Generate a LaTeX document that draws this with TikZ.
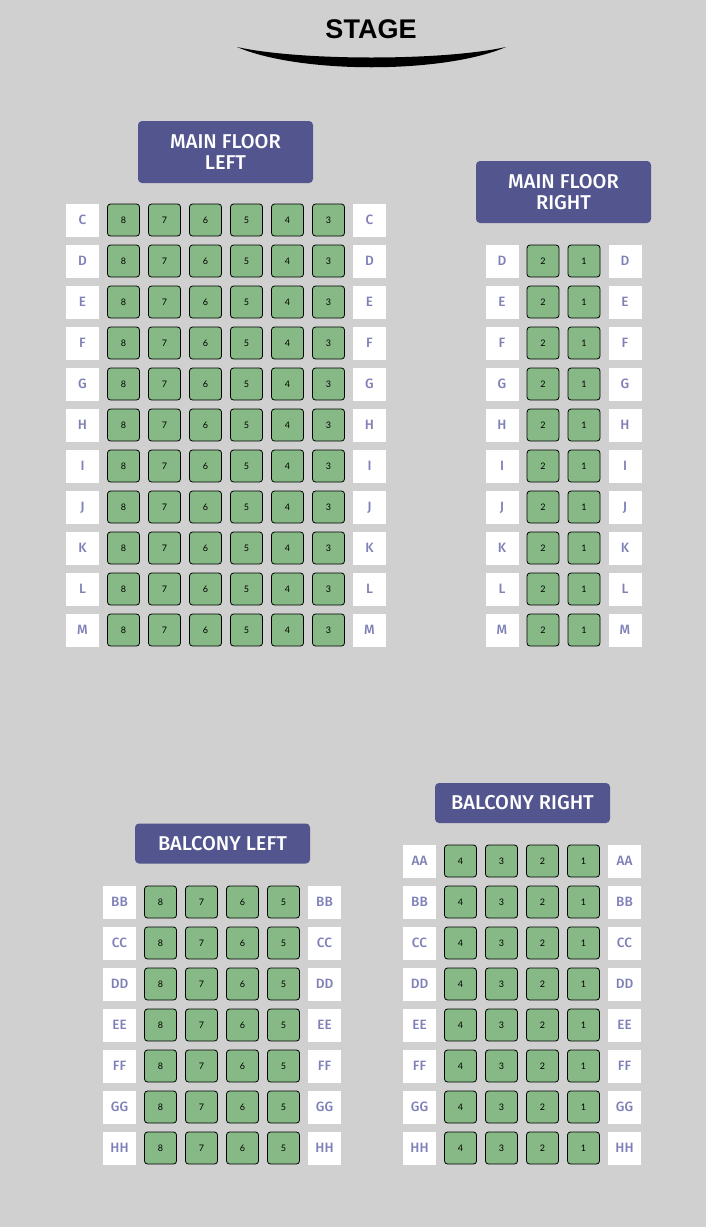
\documentclass[tikz,border=0pt]{standalone}
\usepackage{fontspec}
\setmainfont{Fira Sans}
\newfontfamily\medfont{Fira Sans Medium}
\newfontfamily\seatfont{Lato}
\newfontfamily\stagefont{Liberation Sans}
\definecolor{hall}{HTML}{D0D0D0}
\definecolor{seatgreen}{HTML}{86B986}
\definecolor{headblue}{HTML}{53558F}
\definecolor{labelblue}{HTML}{7F80B8}

\tikzset{
  seat/.style={draw=black, fill=seatgreen, rounded corners=3pt, minimum size=32pt,
    inner sep=0pt, line width=0.8pt, text height=6.4pt, text depth=0pt,
    font=\seatfont\fontsize{9}{9}\selectfont},
  rowlabel/.style={fill=white, minimum size=33pt, inner sep=0pt, text=labelblue,
    text height=9.5pt, text depth=0pt, font=\medfont\fontsize{13.5}{14}\selectfont},
  section/.style={fill=headblue, rounded corners=4pt, minimum width=175pt, inner sep=0pt,
    text=white, align=center, font=\medfont\fontsize{20}{21}\selectfont}
}

\begin{document}
\begin{tikzpicture}[x=1pt,y=-1pt]

   % hall
   \fill [hall] (0,0) rectangle (706,1227);
   \useasboundingbox (0,0) rectangle (706,1227);

   % stage
   \node [font=\stagefont\bfseries\fontsize{27}{28}\selectfont] (stage) at (371,29) {STAGE};
   \fill [black] (237,47) .. controls (300,74) and (443,74) .. (506,47)
                          .. controls (443,61) and (300,61) .. (237,47);

   % section headers
   \node [section, minimum height=62pt] (mfl) at (225.5,152) {MAIN FLOOR\\LEFT};
   \node [section, minimum height=62pt] (mfr) at (563.5,192) {MAIN FLOOR\\RIGHT};
   \node [section, minimum height=40pt] (bl) at (222.5,843.5) {BALCONY LEFT};
   \node [section, minimum height=40pt] (br) at (522.5,803) {BALCONY RIGHT};

   % main floor left
   \foreach \r [count=\i from 0] in {C,D,E,F,G,H,I,J,K,L,M} {
     \node [rowlabel] (mfl-\r-l) at (82.5,220+41*\i) {\r};
     \foreach \s [count=\j] in {8,7,6,5,4,3}
       \node [seat] (mfl-\r-\s) at (82.5+41*\j,220+41*\i) {\s};
     \node [rowlabel] (mfl-\r-r) at (369.5,220+41*\i) {\r};
   }

   % main floor right
   \foreach \r [count=\i from 0] in {D,E,F,G,H,I,J,K,L,M} {
     \node [rowlabel] (mfr-\r-l) at (502,261+41*\i) {\r};
     \foreach \s [count=\j] in {2,1}
       \node [seat] (mfr-\r-\s) at (502+41*\j,261+41*\i) {\s};
     \node [rowlabel] (mfr-\r-r) at (625,261+41*\i) {\r};
   }

   % balcony left
   \foreach \r [count=\i from 0] in {BB,CC,DD,EE,FF,GG,HH} {
     \node [rowlabel] (bl-\r-l) at (119.5,902+41*\i) {\r};
     \foreach \s [count=\j] in {8,7,6,5}
       \node [seat] (bl-\r-\s) at (119.5+41*\j,902+41*\i) {\s};
     \node [rowlabel] (bl-\r-r) at (324.5,902+41*\i) {\r};
   }

   % balcony right
   \foreach \r [count=\i from 0] in {AA,BB,CC,DD,EE,FF,GG,HH} {
     \node [rowlabel] (br-\r-l) at (419.5,861+41*\i) {\r};
     \foreach \s [count=\j] in {4,3,2,1}
       \node [seat] (br-\r-\s) at (419.5+41*\j,861+41*\i) {\s};
     \node [rowlabel] (br-\r-r) at (624.5,861+41*\i) {\r};
   }

\end{tikzpicture}
\end{document}
